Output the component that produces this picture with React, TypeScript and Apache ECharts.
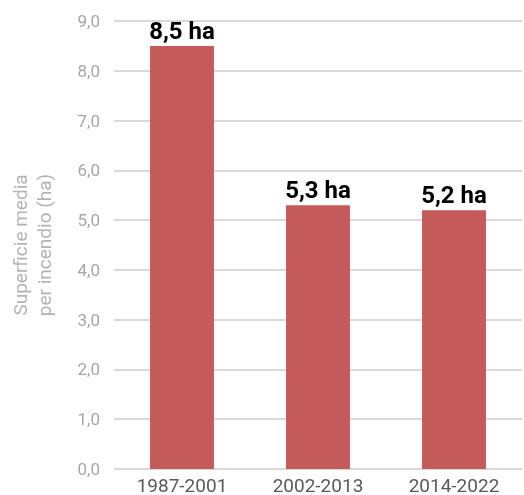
import React, { useEffect, useRef } from "react";
import * as echarts from "echarts";

const categories = ["1987-2001", "2002-2013", "2014-2022"];
const values = [8.5, 5.3, 5.2];
const yTicks = [0, 1, 2, 3, 4, 5, 6, 7, 8, 9];

const fmt = (v: number) => v.toFixed(1).replace(".", ",");

export default function App() {
  const ref = useRef<HTMLDivElement>(null);
  useEffect(() => {
    if (!ref.current) return;
    const chart = echarts.init(ref.current, null, { renderer: "svg" });
    chart.setOption({
      animation: false,
      grid: { left: 111, right: 2, top: 21, bottom: 26, containLabel: false },
      xAxis: {
        type: "category",
        data: categories,
        axisLine: { show: false },
        axisTick: { show: false },
        axisLabel: { color: "#595959", fontSize: 19, lineHeight: 18, fontFamily: "Roboto", margin: 7 },
      },
      yAxis: {
        type: "value",
        min: yTicks[0],
        max: yTicks[yTicks.length - 1],
        interval: 1,
        name: "Superficie media\nper incendio (ha)",
        nameLocation: "middle",
        nameGap: 58,
        nameRotate: 90,
        nameTextStyle: { color: "#b3b3b3", fontSize: 19, fontFamily: "Roboto", lineHeight: 24 },
        axisLine: { show: false },
        axisTick: { show: false },
        axisLabel: { color: "#a6a6a6", fontSize: 17, fontFamily: "Roboto", margin: 14, formatter: (v: number) => fmt(v) },
        splitLine: { lineStyle: { color: "#d9d9d9", width: 2 } },
      },
      series: [
        {
          type: "bar",
          data: values,
          barWidth: "47%",
          itemStyle: { color: "#c55a5a" },
          label: {
            show: true,
            position: "top",
            distance: 3,
            color: "#000",
            fontSize: 24,
            fontWeight: "bold",
            fontFamily: "Roboto",
            formatter: (p: any) => fmt(p.value) + " ha",
          },
        },
      ],
    });
    return () => chart.dispose();
  }, []);
  return <div ref={ref} style={{ position: "fixed", left: 0, top: 0, width: 524, height: 495 }} />;
}
